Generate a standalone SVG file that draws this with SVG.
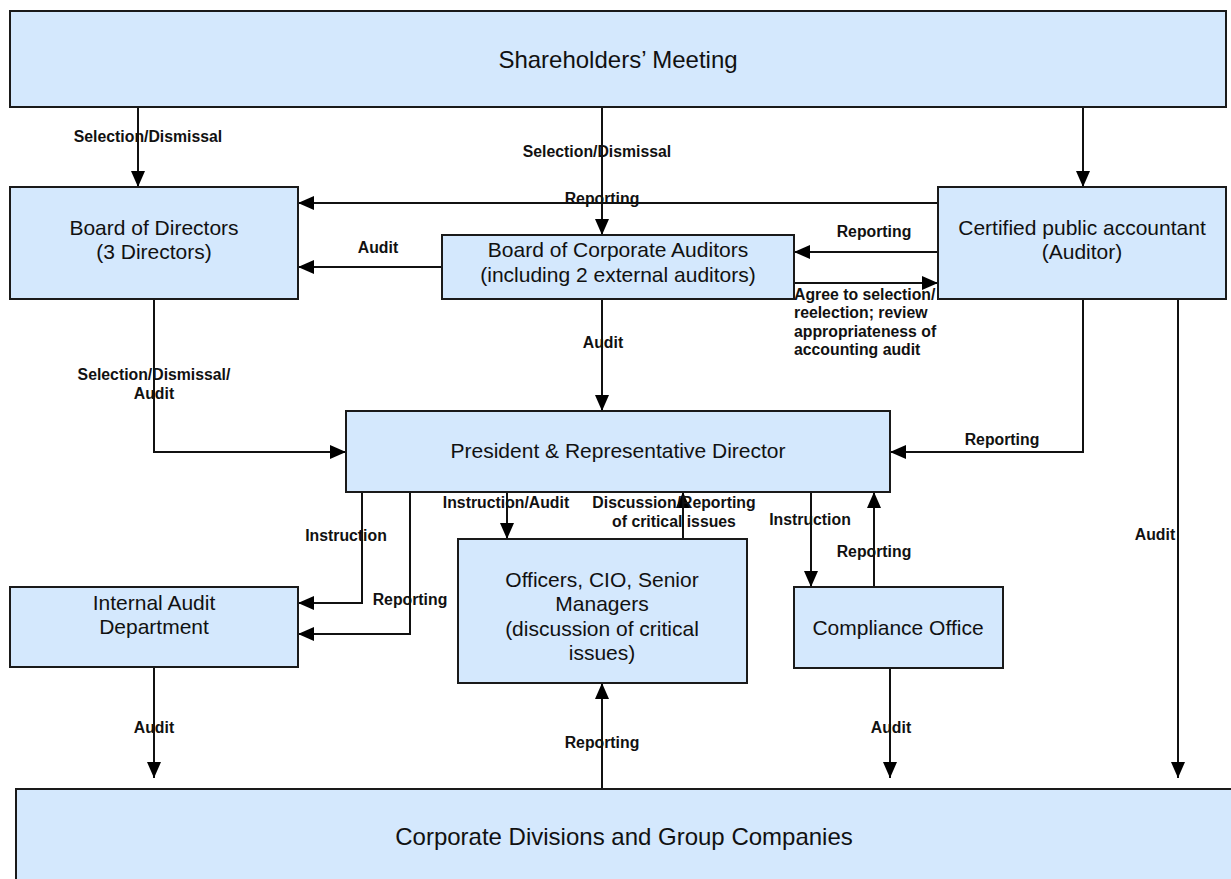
<svg xmlns="http://www.w3.org/2000/svg" width="1231" height="879" viewBox="0 0 1231 879">
<defs>
<style>
.box{fill:#D4E8FD;stroke:#1a1a1a;stroke-width:2}
.nt{font-family:"Liberation Sans",Arial,sans-serif;font-size:21px;fill:#111;text-anchor:middle}
.big{font-size:24px}
.lb{font-family:"Liberation Sans",Arial,sans-serif;font-size:15.8px;font-weight:bold;fill:#111;text-anchor:middle}
.ll{text-anchor:start}
.cn{fill:none;stroke:#111;stroke-width:2;marker-end:url(#ah)}
</style>
<marker id="ah" markerUnits="userSpaceOnUse" markerWidth="16" markerHeight="14" viewBox="0 0 16 14" refX="16" refY="7" orient="auto">
<path d="M0,0 L16,7 L0,14 Z" fill="#000"/>
</marker>
</defs>
<rect width="1231" height="879" fill="#fff"/>
<g id="connectors">
<path class="cn" d="M138,107 V187"/>
<path class="cn" d="M602,107 V235"/>
<path class="cn" d="M1083,107 V187"/>
<path class="cn" d="M938,203 H298"/>
<path class="cn" d="M442,267 H298"/>
<path class="cn" d="M938,252 H794"/>
<path class="cn" d="M794,283 H938"/>
<path class="cn" d="M602,299 V411"/>
<path class="cn" d="M154,299 V452 H346"/>
<path class="cn" d="M1083,299 V452 H890"/>
<path class="cn" d="M1178,299 V778"/>
<path class="cn" d="M362,492 V603 H298"/>
<path class="cn" d="M410,492 V634 H298"/>
<path class="cn" d="M154,667 V778"/>
<path class="cn" d="M507,492 V539"/>
<path class="cn" d="M683,539 V492"/>
<path class="cn" d="M602,789 V683"/>
<path class="cn" d="M811,492 V587"/>
<path class="cn" d="M874,587 V492"/>
<path class="cn" d="M890,668 V778"/>
</g>
<g id="connector-labels">
<text class="lb" x="148" y="142">Selection/Dismissal</text>
<text class="lb" x="597" y="157">Selection/Dismissal</text>
<text class="lb" x="602" y="204">Reporting</text>
<text class="lb" x="378" y="253">Audit</text>
<text class="lb" x="874" y="237">Reporting</text>
<text class="lb ll" x="794" y="300">Agree to selection/</text>
<text class="lb ll" x="794" y="318">reelection; review</text>
<text class="lb ll" x="794" y="337">appropriateness of</text>
<text class="lb ll" x="794" y="355">accounting audit</text>
<text class="lb" x="603" y="348">Audit</text>
<text class="lb" x="154" y="380">Selection/Dismissal/</text>
<text class="lb" x="154" y="399">Audit</text>
<text class="lb" x="1002" y="445">Reporting</text>
<text class="lb" x="346" y="541">Instruction</text>
<text class="lb" x="410" y="605">Reporting</text>
<text class="lb" x="506" y="508">Instruction/Audit</text>
<text class="lb" x="674" y="508">Discussion/Reporting</text>
<text class="lb" x="674" y="527">of critical issues</text>
<text class="lb" x="810" y="525">Instruction</text>
<text class="lb" x="874" y="557">Reporting</text>
<text class="lb" x="602" y="748">Reporting</text>
<text class="lb" x="891" y="733">Audit</text>
<text class="lb" x="154" y="733">Audit</text>
<text class="lb" x="1155" y="540">Audit</text>
</g>
<g id="shareholders">
<rect class="box" x="10" y="11" width="1216" height="96"/>
<text class="nt big" x="618" y="68">Shareholders’ Meeting</text>
</g>
<g id="board-of-directors">
<rect class="box" x="10" y="187" width="288" height="112"/>
<text class="nt" x="154" y="235">Board of Directors</text>
<text class="nt" x="154" y="259">(3 Directors)</text>
</g>
<g id="board-of-corporate-auditors">
<rect class="box" x="442" y="235" width="352" height="64"/>
<text class="nt" x="618" y="257">Board of Corporate Auditors</text>
<text class="nt" x="618" y="282">(including 2 external auditors)</text>
</g>
<g id="cpa">
<rect class="box" x="938" y="187" width="288" height="112"/>
<text class="nt" x="1082" y="235">Certified public accountant</text>
<text class="nt" x="1082" y="259">(Auditor)</text>
</g>
<g id="president">
<rect class="box" x="346" y="411" width="544" height="81"/>
<text class="nt" x="618" y="458">President &amp; Representative Director</text>
</g>
<g id="internal-audit">
<rect class="box" x="10" y="587" width="288" height="80"/>
<text class="nt" x="154" y="610">Internal Audit</text>
<text class="nt" x="154" y="634">Department</text>
</g>
<g id="officers">
<rect class="box" x="458" y="539" width="289" height="144"/>
<text class="nt" x="602" y="587">Officers, CIO, Senior</text>
<text class="nt" x="602" y="611">Managers</text>
<text class="nt" x="602" y="636">(discussion of critical</text>
<text class="nt" x="602" y="660">issues)</text>
</g>
<g id="compliance">
<rect class="box" x="794" y="587" width="209" height="81"/>
<text class="nt" x="898" y="635">Compliance Office</text>
</g>
<g id="corporate-divisions">
<rect class="box" x="16" y="789" width="1240" height="120"/>
<text class="nt big" x="624" y="845">Corporate Divisions and Group Companies</text>
</g>
</svg>
